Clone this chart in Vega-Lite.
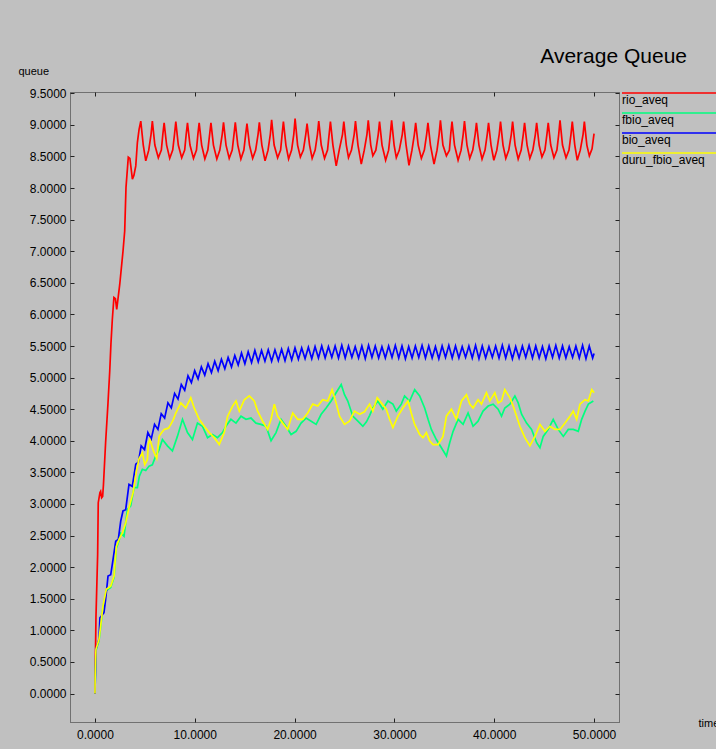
{
"$schema":"https://vega.github.io/schema/vega-lite/v6.json",
"width":549,"height":630,
"autosize":{"type":"none"},
"padding":{"left":70,"top":92,"right":97,"bottom":27},
"background":"#c0c0c0",
"title":{"text":"Average Queue","anchor":"end","frame":"group","orient":"top","offset":-19,"dx":68,"fontSize":21,"font":"Liberation Sans","fontWeight":"normal","color":"#000","baseline":"alphabetic"},
"config":{
"font":"Liberation Sans",
"view":{"stroke":"#222","strokeDash":[1,1],"strokeWidth":1},
"axis":{"domain":false,"grid":false,"labelFont":"Liberation Sans","labelFontSize":12,"labelColor":"#000","tickColor":"#222","tickSize":-4,"titleFont":"Liberation Sans","titleFontSize":11,"titleFontWeight":"normal","titleColor":"#000"},
"legend":{"orient":"none","legendX":551,"legendY":-3,"symbolSize":100,"symbolStrokeWidth":1.5,"symbolOffset":-5,"labelOffset":-6,"labelBaseline":"top","labelFontSize":12,"labelFont":"Liberation Sans","labelColor":"#000","rowPadding":3,"padding":0}
},
"datasets":{
"red":[{"x":0,"y":0},{"x":0.02,"y":0.27},{"x":0.1,"y":1.2},{"x":0.27,"y":2.2},{"x":0.33,"y":3.02},{"x":0.5,"y":3.18},{"x":0.57,"y":3.2},{"x":0.67,"y":3.1},{"x":0.77,"y":3.12},{"x":0.85,"y":3.3},{"x":1.07,"y":3.98},{"x":1.3,"y":4.58},{"x":1.48,"y":5.1},{"x":1.6,"y":5.53},{"x":1.74,"y":5.92},{"x":1.9,"y":6.27},{"x":2.05,"y":6.25},{"x":2.18,"y":6.08},{"x":2.34,"y":6.29},{"x":2.48,"y":6.47},{"x":2.81,"y":7.0},{"x":2.98,"y":7.32},{"x":3.11,"y":8.01},{"x":3.34,"y":8.49},{"x":3.5,"y":8.47},{"x":3.75,"y":8.14},{"x":3.9,"y":8.2},{"x":4.09,"y":8.35},{"x":4.25,"y":8.72},{"x":4.42,"y":8.93},
{"x":4.59,"y":9.06},{"x":4.84,"y":8.68},{"x":5.09,"y":8.43},{"x":5.39,"y":8.6},{"x":5.62,"y":8.85},
{"x":5.75,"y":9.06},{"x":6.0,"y":8.68},{"x":6.35,"y":8.48},{"x":6.65,"y":8.6},{"x":6.8,"y":8.85},
{"x":6.93,"y":9.03},{"x":7.18,"y":8.68},{"x":7.49,"y":8.47},{"x":7.79,"y":8.6},{"x":7.97,"y":8.85},
{"x":8.1,"y":9.05},{"x":8.35,"y":8.68},{"x":8.69,"y":8.48},{"x":8.99,"y":8.6},{"x":9.14,"y":8.85},
{"x":9.27,"y":9.03},{"x":9.52,"y":8.68},{"x":9.87,"y":8.47},{"x":10.17,"y":8.6},{"x":10.31,"y":8.85},
{"x":10.44,"y":9.03},{"x":10.69,"y":8.68},{"x":11.01,"y":8.46},{"x":11.31,"y":8.6},{"x":11.49,"y":8.85},
{"x":11.62,"y":9.03},{"x":11.87,"y":8.68},{"x":12.21,"y":8.46},{"x":12.51,"y":8.6},{"x":12.75,"y":8.85},
{"x":12.88,"y":9.04},{"x":13.13,"y":8.68},{"x":13.45,"y":8.47},{"x":13.75,"y":8.6},{"x":13.93,"y":8.85},
{"x":14.06,"y":9.04},{"x":14.31,"y":8.68},{"x":14.62,"y":8.46},{"x":14.92,"y":8.6},{"x":15.1,"y":8.85},
{"x":15.23,"y":9.02},{"x":15.48,"y":8.68},{"x":15.8,"y":8.47},{"x":16.1,"y":8.6},{"x":16.34,"y":8.85},
{"x":16.47,"y":9.04},{"x":16.72,"y":8.68},{"x":17.04,"y":8.43},{"x":17.34,"y":8.6},{"x":17.57,"y":8.85},
{"x":17.7,"y":9.08},{"x":17.95,"y":8.68},{"x":18.3,"y":8.48},{"x":18.6,"y":8.6},{"x":18.75,"y":8.85},
{"x":18.88,"y":9.05},{"x":19.13,"y":8.68},{"x":19.4,"y":8.46},{"x":19.7,"y":8.6},{"x":19.92,"y":8.85},
{"x":20.05,"y":9.1},{"x":20.3,"y":8.68},{"x":20.58,"y":8.49},{"x":20.88,"y":8.6},{"x":21.12,"y":8.85},
{"x":21.25,"y":9.02},{"x":21.5,"y":8.68},{"x":21.76,"y":8.47},{"x":22.06,"y":8.6},{"x":22.29,"y":8.85},
{"x":22.42,"y":9.06},{"x":22.67,"y":8.68},{"x":23.0,"y":8.47},{"x":23.3,"y":8.6},{"x":23.46,"y":8.85},
{"x":23.59,"y":9.05},{"x":23.84,"y":8.68},{"x":24.17,"y":8.35},{"x":24.47,"y":8.6},{"x":24.8,"y":8.85},
{"x":24.93,"y":9.05},{"x":25.18,"y":8.68},{"x":25.4,"y":8.48},{"x":25.7,"y":8.6},{"x":25.97,"y":8.85},
{"x":26.1,"y":9.06},{"x":26.35,"y":8.68},{"x":26.68,"y":8.38},{"x":26.98,"y":8.6},{"x":27.25,"y":8.85},
{"x":27.38,"y":9.07},{"x":27.63,"y":8.68},{"x":27.84,"y":8.51},{"x":28.14,"y":8.6},{"x":28.38,"y":8.85},
{"x":28.51,"y":9.05},{"x":28.76,"y":8.68},{"x":29.12,"y":8.44},{"x":29.42,"y":8.6},{"x":29.59,"y":8.85},
{"x":29.72,"y":9.07},{"x":29.97,"y":8.68},{"x":30.19,"y":8.48},{"x":30.49,"y":8.6},{"x":30.79,"y":8.85},
{"x":30.92,"y":9.05},{"x":31.17,"y":8.68},{"x":31.46,"y":8.36},{"x":31.76,"y":8.6},{"x":32.0,"y":8.85},
{"x":32.13,"y":9.03},{"x":32.38,"y":8.68},{"x":32.7,"y":8.47},{"x":33.0,"y":8.6},{"x":33.23,"y":8.85},
{"x":33.36,"y":9.03},{"x":33.61,"y":8.68},{"x":33.97,"y":8.38},{"x":34.27,"y":8.6},{"x":34.48,"y":8.85},
{"x":34.61,"y":9.07},{"x":34.86,"y":8.68},{"x":35.21,"y":8.51},{"x":35.51,"y":8.6},{"x":35.64,"y":8.85},
{"x":35.77,"y":9.05},{"x":36.02,"y":8.68},{"x":36.38,"y":8.44},{"x":36.68,"y":8.6},{"x":36.89,"y":8.85},
{"x":37.02,"y":9.06},{"x":37.27,"y":8.68},{"x":37.55,"y":8.47},{"x":37.85,"y":8.6},{"x":38.09,"y":8.85},
{"x":38.22,"y":9.03},{"x":38.47,"y":8.68},{"x":38.78,"y":8.46},{"x":39.08,"y":8.6},{"x":39.3,"y":8.85},
{"x":39.43,"y":9.03},{"x":39.68,"y":8.68},{"x":39.96,"y":8.44},{"x":40.26,"y":8.6},{"x":40.5,"y":8.85},
{"x":40.63,"y":9.05},{"x":40.88,"y":8.68},{"x":41.16,"y":8.47},{"x":41.46,"y":8.6},{"x":41.71,"y":8.85},
{"x":41.84,"y":9.05},{"x":42.09,"y":8.68},{"x":42.4,"y":8.46},{"x":42.7,"y":8.6},{"x":42.91,"y":8.85},
{"x":43.04,"y":9.03},{"x":43.29,"y":8.68},{"x":43.57,"y":8.47},{"x":43.87,"y":8.6},{"x":44.12,"y":8.85},
{"x":44.25,"y":9.03},{"x":44.5,"y":8.68},{"x":44.78,"y":8.49},{"x":45.08,"y":8.6},{"x":45.28,"y":8.85},
{"x":45.41,"y":9.03},{"x":45.66,"y":8.68},{"x":45.98,"y":8.48},{"x":46.28,"y":8.6},{"x":46.46,"y":8.85},
{"x":46.59,"y":9.07},{"x":46.84,"y":8.68},{"x":47.19,"y":8.48},{"x":47.49,"y":8.6},{"x":47.69,"y":8.85},
{"x":47.82,"y":9.05},{"x":48.07,"y":8.68},{"x":48.32,"y":8.44},{"x":48.62,"y":8.6},{"x":48.9,"y":8.85},
{"x":49.03,"y":9.05},{"x":49.28,"y":8.68},{"x":49.53,"y":8.51},{"x":49.8,"y":8.62},{"x":50.0,"y":8.86}],
"green":[{"x":0,"y":0},{"x":0.1,"y":0.68},{"x":0.4,"y":0.83},{"x":0.57,"y":1.05},{"x":0.8,"y":1.36},{"x":1.14,"y":1.63},{"x":1.58,"y":1.68},{"x":1.91,"y":1.84},{"x":2.14,"y":2.3},{"x":2.41,"y":2.42},{"x":2.58,"y":2.54},{"x":2.91,"y":2.49},{"x":3.25,"y":2.91},{"x":3.58,"y":2.97},{"x":3.92,"y":3.26},{"x":4.25,"y":3.26},{"x":4.45,"y":3.44},{"x":4.75,"y":3.55},{"x":5.09,"y":3.53},{"x":5.42,"y":3.6},{"x":5.75,"y":3.62},{"x":6.09,"y":3.76},{"x":6.4,"y":3.85},{"x":6.76,"y":4.02},{"x":7.26,"y":3.92},{"x":7.76,"y":3.84},{"x":8.26,"y":4.07},{"x":8.77,"y":4.34},{"x":9.27,"y":4.13},{"x":9.77,"y":4.02},{"x":10.27,"y":4.28},{"x":10.77,"y":4.23},{"x":11.28,"y":4.05},{"x":11.78,"y":4.1},{"x":12.28,"y":4.05},{"x":12.78,"y":4.13},{"x":13.12,"y":4.23},{"x":13.62,"y":4.34},{"x":14.13,"y":4.28},{"x":14.63,"y":4.39},{"x":15.13,"y":4.34},{"x":15.63,"y":4.36},{"x":16.13,"y":4.28},{"x":16.63,"y":4.26},{"x":17.14,"y":4.23},{"x":17.64,"y":4.0},{"x":18.14,"y":4.13},{"x":18.64,"y":4.34},{"x":19.14,"y":4.23},{"x":19.65,"y":4.1},{"x":20.15,"y":4.15},{"x":20.65,"y":4.28},{"x":21.15,"y":4.36},{"x":21.66,"y":4.31},{"x":22.16,"y":4.26},{"x":22.66,"y":4.42},{"x":23.16,"y":4.52},{"x":23.66,"y":4.63},{"x":24.16,"y":4.76},{"x":24.67,"y":4.89},{"x":25.0,"y":4.73},{"x":25.33,"y":4.63},{"x":25.83,"y":4.39},{"x":26.34,"y":4.31},{"x":26.84,"y":4.23},{"x":27.2,"y":4.3},{"x":27.51,"y":4.4},{"x":27.84,"y":4.52},{"x":28.34,"y":4.63},{"x":28.84,"y":4.5},{"x":29.35,"y":4.63},{"x":29.85,"y":4.58},{"x":30.19,"y":4.47},{"x":30.69,"y":4.58},{"x":31.02,"y":4.71},{"x":31.53,"y":4.63},{"x":32.03,"y":4.81},{"x":32.53,"y":4.71},{"x":33.03,"y":4.52},{"x":33.37,"y":4.34},{"x":33.7,"y":4.18},{"x":34.2,"y":4.02},{"x":34.71,"y":3.89},{"x":35.21,"y":3.76},{"x":35.54,"y":3.97},{"x":35.88,"y":4.15},{"x":36.38,"y":4.34},{"x":36.88,"y":4.26},{"x":37.38,"y":4.44},{"x":37.88,"y":4.23},{"x":38.38,"y":4.31},{"x":38.88,"y":4.47},{"x":39.39,"y":4.55},{"x":39.89,"y":4.58},{"x":40.39,"y":4.5},{"x":40.73,"y":4.39},{"x":41.06,"y":4.52},{"x":41.57,"y":4.58},{"x":42.07,"y":4.71},{"x":42.4,"y":4.6},{"x":42.74,"y":4.42},{"x":43.24,"y":4.28},{"x":43.74,"y":4.18},{"x":44.25,"y":3.97},{"x":44.58,"y":3.89},{"x":44.91,"y":4.07},{"x":45.41,"y":4.18},{"x":45.91,"y":4.34},{"x":46.41,"y":4.18},{"x":46.92,"y":4.07},{"x":47.42,"y":4.18},{"x":47.92,"y":4.18},{"x":48.42,"y":4.15},{"x":48.76,"y":4.34},{"x":49.1,"y":4.47},{"x":49.43,"y":4.58},{"x":49.93,"y":4.63}],
"blue":[{"x":0,"y":0},{"x":0.1,"y":0.7},{"x":0.4,"y":0.86},{"x":0.5,"y":1.2},{"x":0.9,"y":1.28},{"x":1.07,"y":1.49},{"x":1.31,"y":1.86},{"x":1.58,"y":1.88},{"x":1.81,"y":2.12},{"x":2.08,"y":2.41},{"x":2.34,"y":2.44},{"x":2.58,"y":2.73},{"x":2.81,"y":2.89},{"x":3.08,"y":2.91},{"x":3.41,"y":3.31},{"x":3.74,"y":3.28},{"x":4.09,"y":3.63},{"x":4.35,"y":3.66},
{"x":4.63,"y":3.92},{"x":4.97,"y":3.86},{"x":5.3,"y":4.13},{"x":5.64,"y":4.03},{"x":5.97,"y":4.26},{"x":6.31,"y":4.18},{"x":6.64,"y":4.43},{"x":6.98,"y":4.36},{"x":7.31,"y":4.6},{"x":7.65,"y":4.52},{"x":7.98,"y":4.75},{"x":8.32,"y":4.66},{"x":8.65,"y":4.89},{"x":8.99,"y":4.8},{"x":9.32,"y":5.03},{"x":9.66,"y":4.92},{"x":9.99,"y":5.11},{"x":10.33,"y":4.98},{"x":10.66,"y":5.17},{"x":11.0,"y":5.04},{"x":11.33,"y":5.22},{"x":11.67,"y":5.08},{"x":12.0,"y":5.26},{"x":12.34,"y":5.11},{"x":12.67,"y":5.29},{"x":13.01,"y":5.14},{"x":13.34,"y":5.32},{"x":13.68,"y":5.17},{"x":14.01,"y":5.35},{"x":14.35,"y":5.2},{"x":14.68,"y":5.39},{"x":15.02,"y":5.22},{"x":15.35,"y":5.41},{"x":15.69,"y":5.24},{"x":16.02,"y":5.43},{"x":16.36,"y":5.25},{"x":16.69,"y":5.43},{"x":17.03,"y":5.26},{"x":17.36,"y":5.44},{"x":17.7,"y":5.26},{"x":18.03,"y":5.44},{"x":18.37,"y":5.27},{"x":18.7,"y":5.45},{"x":19.04,"y":5.27},{"x":19.37,"y":5.46},{"x":19.71,"y":5.28},{"x":20.04,"y":5.47},{"x":20.38,"y":5.29},{"x":20.71,"y":5.47},{"x":21.05,"y":5.3},{"x":21.38,"y":5.48},{"x":21.72,"y":5.3},{"x":22.05,"y":5.49},{"x":22.39,"y":5.31},{"x":22.72,"y":5.5},{"x":23.06,"y":5.31},{"x":23.39,"y":5.49},{"x":23.73,"y":5.32},{"x":24.06,"y":5.5},{"x":24.4,"y":5.31},{"x":24.73,"y":5.51},{"x":25.07,"y":5.31},{"x":25.4,"y":5.5},{"x":25.74,"y":5.32},{"x":26.07,"y":5.49},{"x":26.41,"y":5.31},{"x":26.74,"y":5.5},{"x":27.08,"y":5.3},{"x":27.41,"y":5.51},{"x":27.75,"y":5.32},{"x":28.08,"y":5.5},{"x":28.42,"y":5.31},{"x":28.75,"y":5.49},{"x":29.09,"y":5.31},{"x":29.42,"y":5.5},{"x":29.76,"y":5.32},{"x":30.09,"y":5.51},{"x":30.43,"y":5.31},{"x":30.76,"y":5.5},{"x":31.1,"y":5.3},{"x":31.43,"y":5.49},{"x":31.77,"y":5.31},{"x":32.1,"y":5.5},{"x":32.44,"y":5.32},{"x":32.77,"y":5.51},{"x":33.11,"y":5.31},{"x":33.44,"y":5.5},{"x":33.78,"y":5.31},{"x":34.11,"y":5.49},{"x":34.45,"y":5.3},{"x":34.78,"y":5.5},{"x":35.12,"y":5.32},{"x":35.45,"y":5.51},{"x":35.79,"y":5.31},{"x":36.12,"y":5.5},{"x":36.46,"y":5.31},{"x":36.79,"y":5.49},{"x":37.13,"y":5.32},{"x":37.46,"y":5.5},{"x":37.8,"y":5.31},{"x":38.13,"y":5.51},{"x":38.47,"y":5.3},{"x":38.8,"y":5.5},{"x":39.14,"y":5.31},{"x":39.47,"y":5.49},{"x":39.81,"y":5.32},{"x":40.14,"y":5.5},{"x":40.48,"y":5.31},{"x":40.81,"y":5.51},{"x":41.15,"y":5.31},{"x":41.48,"y":5.5},{"x":41.82,"y":5.3},{"x":42.15,"y":5.49},{"x":42.49,"y":5.31},{"x":42.82,"y":5.5},{"x":43.16,"y":5.32},{"x":43.49,"y":5.51},{"x":43.83,"y":5.31},{"x":44.16,"y":5.5},{"x":44.5,"y":5.31},{"x":44.83,"y":5.49},{"x":45.17,"y":5.3},{"x":45.5,"y":5.5},{"x":45.84,"y":5.32},{"x":46.17,"y":5.51},{"x":46.51,"y":5.31},{"x":46.84,"y":5.5},{"x":47.18,"y":5.31},{"x":47.51,"y":5.49},{"x":47.85,"y":5.32},{"x":48.18,"y":5.5},{"x":48.52,"y":5.31},{"x":48.85,"y":5.51},{"x":49.19,"y":5.3},{"x":49.52,"y":5.5},{"x":49.86,"y":5.31},{"x":50.0,"y":5.38}],
"yellow":[{"x":0,"y":0},{"x":0.02,"y":0.27},{"x":0.1,"y":0.7},{"x":0.4,"y":0.85},{"x":0.57,"y":1.07},{"x":0.8,"y":1.38},{"x":1.14,"y":1.65},{"x":1.58,"y":1.7},{"x":1.91,"y":1.86},{"x":2.14,"y":2.33},{"x":2.41,"y":2.44},{"x":2.74,"y":2.54},{"x":3.08,"y":2.7},{"x":3.41,"y":2.94},{"x":3.82,"y":3.18},{"x":4.15,"y":3.52},{"x":4.42,"y":3.72},{"x":4.75,"y":3.81},{"x":4.99,"y":3.62},{"x":5.25,"y":3.7},{"x":5.35,"y":3.95},{"x":5.5,"y":4.02},{"x":5.86,"y":3.84},{"x":6.19,"y":3.72},{"x":6.43,"y":4.07},{"x":6.69,"y":4.13},{"x":6.93,"y":4.18},{"x":7.36,"y":4.2},{"x":7.6,"y":4.26},{"x":7.86,"y":4.34},{"x":8.1,"y":4.44},{"x":8.6,"y":4.6},{"x":9.1,"y":4.52},{"x":9.6,"y":4.68},{"x":9.94,"y":4.52},{"x":10.44,"y":4.34},{"x":10.94,"y":4.23},{"x":11.45,"y":4.13},{"x":11.95,"y":4.05},{"x":12.45,"y":3.94},{"x":12.95,"y":4.13},{"x":13.29,"y":4.39},{"x":13.79,"y":4.55},{"x":14.13,"y":4.63},{"x":14.46,"y":4.47},{"x":14.96,"y":4.65},{"x":15.46,"y":4.71},{"x":15.96,"y":4.63},{"x":16.3,"y":4.47},{"x":16.8,"y":4.31},{"x":17.3,"y":4.18},{"x":17.64,"y":4.34},{"x":17.97,"y":4.58},{"x":18.3,"y":4.39},{"x":18.81,"y":4.28},{"x":19.31,"y":4.18},{"x":19.81,"y":4.44},{"x":20.31,"y":4.34},{"x":20.81,"y":4.34},{"x":21.32,"y":4.44},{"x":21.82,"y":4.58},{"x":22.32,"y":4.55},{"x":22.82,"y":4.65},{"x":23.32,"y":4.63},{"x":23.76,"y":4.81},{"x":24.16,"y":4.6},{"x":24.5,"y":4.39},{"x":25.0,"y":4.26},{"x":25.5,"y":4.31},{"x":26.0,"y":4.47},{"x":26.51,"y":4.42},{"x":27.01,"y":4.46},{"x":27.51,"y":4.58},{"x":27.84,"y":4.47},{"x":28.28,"y":4.68},{"x":28.68,"y":4.6},{"x":29.18,"y":4.5},{"x":29.52,"y":4.34},{"x":29.85,"y":4.21},{"x":30.35,"y":4.39},{"x":30.85,"y":4.52},{"x":31.36,"y":4.63},{"x":31.69,"y":4.44},{"x":32.03,"y":4.26},{"x":32.53,"y":4.1},{"x":32.86,"y":4.05},{"x":33.2,"y":4.13},{"x":33.53,"y":4.0},{"x":33.87,"y":3.94},{"x":34.37,"y":3.94},{"x":34.87,"y":4.07},{"x":35.21,"y":4.39},{"x":35.71,"y":4.5},{"x":36.21,"y":4.34},{"x":36.72,"y":4.63},{"x":37.22,"y":4.73},{"x":37.55,"y":4.58},{"x":37.88,"y":4.52},{"x":38.38,"y":4.65},{"x":38.72,"y":4.58},{"x":39.22,"y":4.76},{"x":39.56,"y":4.63},{"x":40.06,"y":4.76},{"x":40.39,"y":4.6},{"x":40.73,"y":4.63},{"x":41.06,"y":4.81},{"x":41.57,"y":4.68},{"x":41.9,"y":4.55},{"x":42.24,"y":4.39},{"x":42.57,"y":4.23},{"x":43.07,"y":4.05},{"x":43.57,"y":3.92},{"x":44.08,"y":4.07},{"x":44.58,"y":4.26},{"x":45.08,"y":4.15},{"x":45.58,"y":4.23},{"x":46.08,"y":4.18},{"x":46.59,"y":4.18},{"x":47.09,"y":4.28},{"x":47.59,"y":4.39},{"x":47.92,"y":4.47},{"x":48.26,"y":4.34},{"x":48.59,"y":4.58},{"x":49.1,"y":4.65},{"x":49.43,"y":4.63},{"x":49.77,"y":4.81},{"x":50.0,"y":4.76}]
},
"layer":[
{"data":{"name":"red"},"mark":{"type":"line","strokeWidth":1.7,"interpolate":"linear"},
"encoding":{
"x":{"field":"x","type":"quantitative","scale":{"domain":[-2.5,52.5],"nice":false,"zero":false},"axis":{"orient":"bottom","values":[0,10,20,30,40,50],"format":".4f","labelPadding":11,"title":"time","titleAngle":0,"titleAlign":"left","titleBaseline":"alphabetic","titleX":628,"titleY":4}},
"y":{"field":"y","type":"quantitative","scale":{"domain":[-0.45,9.52],"nice":false,"zero":false},"axis":{"orient":"left","values":[0,0.5,1,1.5,2,2.5,3,3.5,4,4.5,5,5.5,6,6.5,7,7.5,8,8.5,9,9.5],"format":".4f","labelPadding":8,"title":"queue","titleAngle":0,"titleAlign":"left","titleBaseline":"alphabetic","titleX":-52,"titleY":-18}},
"color":{"datum":"rio_aveq","type":"nominal","scale":{"domain":["rio_aveq","fbio_aveq","bio_aveq","duru_fbio_aveq"],"range":["#ff0000","#00ff7f","#0000ff","#ffff00"]},"legend":{"title":null,"symbolType":"M0,-0.4H20","rowPadding":3,"labelOffset":-6,"symbolOffset":-5}}}},
{"data":{"name":"green"},"mark":{"type":"line","strokeWidth":1.7,"interpolate":"linear"},
"encoding":{
"x":{"field":"x","type":"quantitative","axis":{"orient":"top","values":[0,10,20,30,40,50],"labels":false,"title":null}},
"y":{"field":"y","type":"quantitative","axis":{"orient":"right","values":[0,0.5,1,1.5,2,2.5,3,3.5,4,4.5,5,5.5,6,6.5,7,7.5,8,8.5,9,9.5],"labels":false,"title":null}},
"color":{"datum":"fbio_aveq","type":"nominal","legend":{"title":null,"symbolType":"M0,-0.4H20","rowPadding":3,"labelOffset":-6,"symbolOffset":-5}}}},
{"data":{"name":"blue"},"mark":{"type":"line","strokeWidth":1.7,"interpolate":"linear"},
"encoding":{
"x":{"field":"x","type":"quantitative","axis":null},
"y":{"field":"y","type":"quantitative","axis":null},
"color":{"datum":"bio_aveq","type":"nominal","legend":{"title":null,"symbolType":"M0,-0.4H20","rowPadding":3,"labelOffset":-6,"symbolOffset":-5}}}},
{"data":{"name":"yellow"},"mark":{"type":"line","strokeWidth":1.7,"interpolate":"linear"},
"encoding":{
"x":{"field":"x","type":"quantitative","axis":null},
"y":{"field":"y","type":"quantitative","axis":null},
"color":{"datum":"duru_fbio_aveq","type":"nominal","legend":{"title":null,"symbolType":"M0,-0.4H20","rowPadding":3,"labelOffset":-6,"symbolOffset":-5}}}}
],
"resolve":{"axis":{"x":"independent","y":"independent"}}
}
